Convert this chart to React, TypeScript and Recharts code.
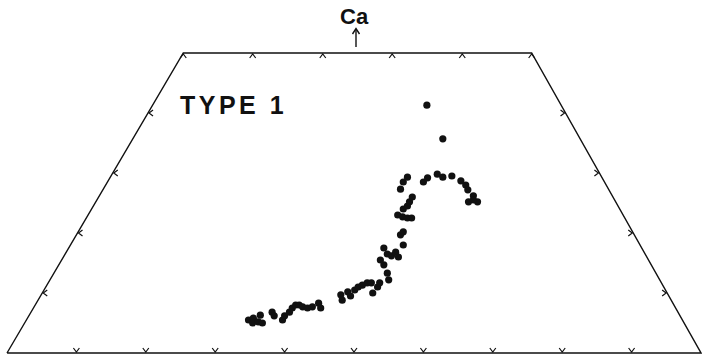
import { ScatterChart, Scatter, XAxis, YAxis } from "recharts";

// quadrilateral corners (x along the base, y = Ca)
const topLeft = 25.4;
const topRight = 75.6;
const outline = [
  { x: 0, y: 0 },
  { x: topLeft, y: 50 },
  { x: topRight, y: 50 },
  { x: 100, y: 0 },
  { x: 0, y: 0 },
];

const baseTicks = [10, 20, 30, 40, 50, 60, 70, 80, 90];
const topTicks = [25.4, 35.4, 45.5, 55.5, 65.6, 75.6];
const sideTicks = [10, 20, 30, 40];

// analyses
const points = [
  [34.8, 5.5], [35.5, 5.8], [35.4, 5.0], [36.2, 5.2], [36.8, 5.0], [36.5, 6.3],
  [38.2, 6.8], [38.5, 6.2], [39.7, 5.5], [40.0, 6.2], [40.7, 6.8], [41.1, 7.5],
  [41.6, 8.0], [42.1, 8.0], [42.6, 7.7], [43.3, 7.5], [44.0, 7.7], [44.9, 8.3],
  [45.2, 7.5], [48.1, 9.7], [48.3, 8.8], [49.1, 10.2], [49.5, 9.5], [50.1, 10.5],
  [50.6, 11.0], [51.2, 11.3], [51.9, 11.7], [52.5, 11.7], [52.7, 10.0], [53.4, 11.0],
  [53.7, 11.7], [54.3, 14.7], [54.8, 13.3], [55.0, 12.2], [54.3, 17.5], [53.8, 15.5],
  [54.8, 16.5], [55.4, 16.2], [56.0, 16.8], [56.4, 16.0], [56.7, 19.7], [57.1, 20.2],
  [57.1, 18.0], [56.3, 23.0], [57.0, 22.7], [57.7, 22.5], [58.3, 22.5], [57.1, 24.0],
  [57.7, 24.5], [58.0, 25.2], [58.4, 26.0], [56.7, 27.3], [57.1, 28.5], [57.7, 29.3],
  [60.0, 28.5], [60.6, 29.2], [62.0, 29.8], [62.8, 29.3], [64.1, 29.5], [65.4, 28.7],
  [66.1, 28.0], [66.4, 27.2], [67.2, 26.2], [66.5, 25.2], [67.8, 25.2], [67.2, 25.5],
  [60.5, 41.3], [62.8, 35.7],
];

const data = points.map(([x, y]) => ({ x, y }));
const baseData = baseTicks.map((x) => ({ x, y: 0 }));
const topData = topTicks.map((x) => ({ x, y: 50 }));
const leftData = sideTicks.map((y) => ({ x: (y / 50) * topLeft, y }));
const rightData = sideTicks.map((y) => ({ x: 100 - (y / 50) * (100 - topRight), y }));

const ink = "#111";
const font = "'Liberation Sans', Arial, sans-serif";

const Dot = (p: any) => <circle cx={p.cx} cy={p.cy} r={3.6} fill={ink} />;
const Nothing = () => <g />;

// small chevron tick: offsets [dx, dy] of the three points around the mark
const tick = (pts: number[][]) => (p: any) => (
  <polyline
    points={pts.map(([dx, dy]) => `${p.cx + dx},${p.cy + dy}`).join(" ")}
    stroke={ink}
    strokeWidth={1.2}
    fill="none"
  />
);
const DownTick = tick([[-3, -5], [0, -1], [3, -5]]);
const UpTick = tick([[-3, 5], [0, 1], [3, 5]]);
const LeftTick = tick([[5, -3], [1, 0], [5, 3]]);
const RightTick = tick([[-5, -3], [-1, 0], [-5, 3]]);

export default function App() {
  return (
    <div style={{ position: "absolute", left: 0, top: 0, width: 702, height: 360, background: "#fff" }}>
      <ScatterChart width={702} height={360} margin={{ top: 53, right: 1, bottom: 7, left: 7 }}>
        <XAxis type="number" dataKey="x" domain={[0, 100]} hide />
        <YAxis type="number" dataKey="y" domain={[0, 50]} hide />
        <Scatter data={outline} line={{ stroke: ink, strokeWidth: 1.4 }} shape={Nothing} isAnimationActive={false} />
        <Scatter data={baseData} shape={DownTick} isAnimationActive={false} />
        <Scatter data={topData} shape={UpTick} isAnimationActive={false} />
        <Scatter data={leftData} shape={LeftTick} isAnimationActive={false} />
        <Scatter data={rightData} shape={RightTick} isAnimationActive={false} />
        <Scatter data={data} shape={Dot} isAnimationActive={false} />
      </ScatterChart>
      <div
        style={{
          position: "absolute",
          left: 340,
          top: 4,
          fontFamily: font,
          fontWeight: "bold",
          fontSize: 22,
          lineHeight: "25px",
          color: ink,
        }}
      >
        Ca
      </div>
      <svg style={{ position: "absolute", left: 350, top: 27 }} width={12} height={22}>
        <line x1={6} y1={2} x2={6} y2={20} stroke={ink} strokeWidth={1.4} />
        <path d="M2.5,7 L6,1.5 L9.5,7" stroke={ink} strokeWidth={1.4} fill="none" />
      </svg>
      <div
        style={{
          position: "absolute",
          left: 180,
          top: 91,
          fontFamily: font,
          fontWeight: "bold",
          fontSize: 25,
          lineHeight: "28px",
          letterSpacing: 3.5,
          color: ink,
        }}
      >
        TYPE 1
      </div>
    </div>
  );
}
